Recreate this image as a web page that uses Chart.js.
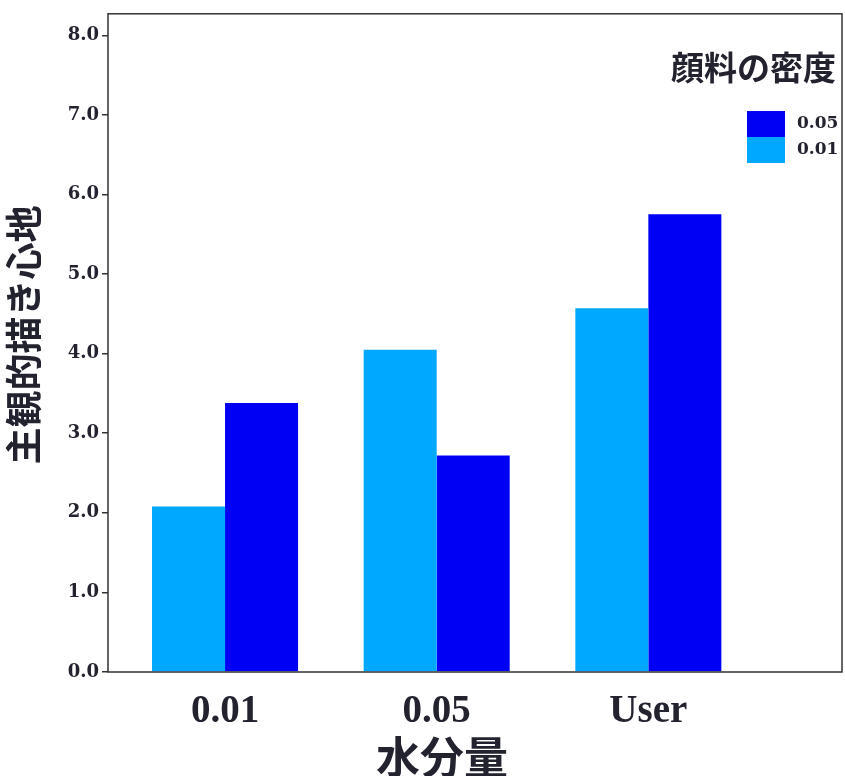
<!DOCTYPE html>
<html>
<head>
<meta charset="utf-8">
<script src="https://cdn.jsdelivr.net/npm/chart.js@4/dist/chart.umd.min.js"></script>
<style>
  html, body { margin:0; padding:0; background:#fff; }
  #wrap { width:845px; height:776px; }
</style>
</head>
<body>
<div id="wrap"><canvas id="chart" width="845" height="776"></canvas></div>
<script>
// data
const categories = ['0.01', '0.05', 'User'];
const seriesLabels = ['0.01', '0.05'];
const values001 = [2.08, 4.05, 4.57];
const values005 = [3.38, 2.72, 5.75];
const yTicks = [0, 1, 2, 3, 4, 5, 6, 7, 8];
const legendTitle = '顔料の密度';
const xTitle = '水分量';
const yTitle = '主観的描き心地';

const LIGHT = '#00a9ff';
const DARK = '#0000f5';
const INK = '#23232f';

// frame, axis titles and the legend box
const decorPlugin = {
  id: 'decor',
  afterDraw(chart){
    const ctx = chart.ctx;
    const a = chart.chartArea;
    ctx.save();
    ctx.strokeStyle = '#333';
    ctx.lineWidth = 1.5;
    ctx.strokeRect(a.left, a.top, a.right - a.left, a.bottom - a.top);

    ctx.fillStyle = INK;
    // x title
    ctx.font = 'bold 44px "Noto Sans CJK JP"';
    ctx.textAlign = 'center';
    ctx.textBaseline = 'middle';
    ctx.fillText(xTitle, 442, 757);

    // y title
    ctx.save();
    ctx.translate(24, 335);
    ctx.rotate(-Math.PI / 2);
    ctx.font = 'bold 37px "Noto Sans CJK JP"';
    ctx.fillText(yTitle, 0, 0);
    ctx.restore();

    // legend
    ctx.font = 'bold 33px "Noto Sans CJK JP"';
    ctx.textAlign = 'right';
    ctx.fillText(legendTitle, 836, 67);
    const items = chart.data.datasets.slice().reverse();
    ctx.font = 'bold 17px "DejaVu Serif"';
    ctx.textAlign = 'left';
    items.forEach((ds, i) => {
      const y = 111 + i * 26;
      ctx.fillStyle = ds.backgroundColor;
      ctx.fillRect(747, y, 38, 26);
      ctx.fillStyle = INK;
      ctx.fillText(ds.label, 797, y + 13);
    });
    ctx.restore();
  }
};

const ctx = document.getElementById('chart').getContext('2d');
new Chart(ctx, {
  type: 'bar',
  data: {
    datasets: [
      { label: seriesLabels[0], data: values001.map((v, i) => ({ x: i, y: v })), backgroundColor: LIGHT, borderWidth: 0 },
      { label: seriesLabels[1], data: values005.map((v, i) => ({ x: i, y: v })), backgroundColor: DARK, borderWidth: 0 }
    ]
  },
  options: {
    responsive: false,
    animation: false,
    layout: { padding: { top: 13, right: 3, left: 0, bottom: 0 } },
    datasets: { bar: { categoryPercentage: 0.69, barPercentage: 1.0 } },
    plugins: { legend: { display: false }, tooltip: { enabled: false } },
    scales: {
      x: {
        type: 'linear',
        offset: false,
        min: -0.553,
        max: 2.915,
        afterBuildTicks: (s) => { s.ticks = categories.map((c, i) => ({ value: i })); },
        afterFit: (s) => { s.height = 104; },
        grid: { display: false, drawTicks: false, offset: false },
        border: { display: false },
        ticks: {
          callback: (v) => categories[v],
          maxRotation: 0,
          autoSkip: false,
          padding: 17,
          color: INK,
          font: { family: '"Liberation Serif"', size: 39, weight: 'bold' }
        }
      },
      y: {
        min: 0,
        max: 8.27,
        afterBuildTicks: (s) => { s.ticks = yTicks.map(v => ({ value: v })); },
        afterFit: (s) => { s.width = 108; },
        grid: { drawOnChartArea: false, drawTicks: true, tickLength: 6, color: '#333', lineWidth: 1.5 },
        border: { display: false },
        ticks: {
          callback: (v) => Number(v).toFixed(1),
          padding: 3,
          color: INK,
          font: { family: '"DejaVu Serif"', size: 18, weight: 'bold' }
        }
      }
    }
  },
  plugins: [decorPlugin]
});
</script>
</body>
</html>
